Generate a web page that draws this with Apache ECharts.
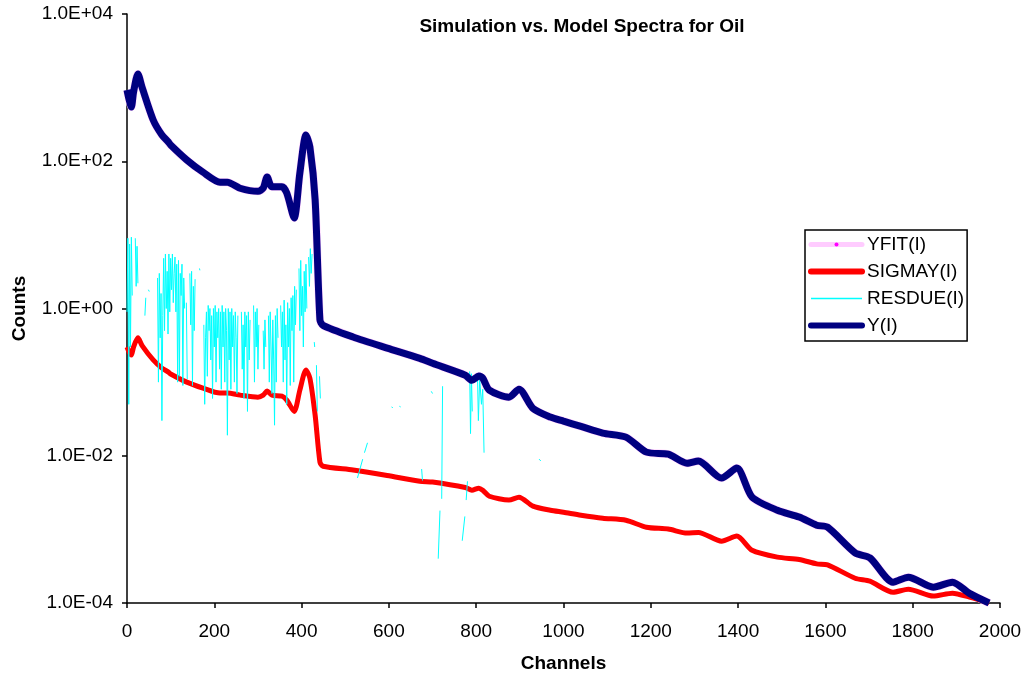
<!DOCTYPE html>
<html>
<head>
<meta charset="utf-8">
<title>Simulation vs. Model Spectra for Oil</title>
<script src="https://cdn.jsdelivr.net/npm/echarts@6/dist/echarts.min.js"></script>
<style>
  html, body { margin: 0; padding: 0; background: #fff; }
  #chart { width: 1028px; height: 679px; }
</style>
</head>
<body>
<div id="chart"></div>
<script>
// channels shared by Y, YFIT and SIGMAY
const channels = [0, 5, 10, 15, 25, 35, 60, 80, 95, 100, 137, 174, 213, 230, 259, 300, 312, 321, 332, 355,
  366, 383, 396, 410, 419, 431, 442, 449, 518, 596, 671, 700, 775, 790, 806, 815, 830, 875, 898, 930,
  970, 1000, 1040, 1090, 1143, 1190, 1240, 1283, 1309, 1362, 1397, 1432, 1490, 1540, 1580, 1605, 1668, 1702, 1755, 1790,
  1847, 1891, 1930, 1975];

const yVals = [930, 680, 545, 870, 1530, 990, 363, 227, 182, 166, 104, 71, 52, 52, 43, 39, 43, 61, 45, 45,
  37, 17, 69, 227, 156, 30, 0.70, 0.59, 0.41, 0.29, 0.21, 0.18, 0.124, 0.106, 0.121, 0.113, 0.078, 0.0625, 0.080, 0.044,
  0.0335, 0.0295, 0.025, 0.0203, 0.0179, 0.0112, 0.0105, 0.0079, 0.0085, 0.00497, 0.0068, 0.00274, 0.00182, 0.00147, 0.00114, 0.00107, 0.00048, 0.00041, 0.000192, 0.000224,
  0.000164, 0.000192, 0.000135, 0.0001];

// the fit sits right under Y(I)
const yfitVals = yVals.slice();

const sigmaVals = [0.30, 0.256, 0.233, 0.30, 0.40, 0.31, 0.20, 0.155, 0.137, 0.129, 0.100, 0.083, 0.071, 0.071, 0.0666, 0.0625, 0.0666, 0.0755, 0.0666, 0.0645,
  0.057, 0.040, 0.078, 0.146, 0.113, 0.0356, 0.0082, 0.0072, 0.0064, 0.0054, 0.0045, 0.0044, 0.0037, 0.0034, 0.00363, 0.0034, 0.00282, 0.0025, 0.00274, 0.00207,
  0.00182, 0.00171, 0.00156, 0.00142, 0.00133, 0.00107, 0.00101, 0.00089, 0.00091, 0.00069, 0.00081, 0.00052, 0.00042, 0.00039, 0.00034, 0.00033, 0.000217, 0.000198, 0.00014, 0.000154,
  0.000124, 0.000136, 0.00012, 0.0001];

// residuals, null where the residual is negative (not drawn on a log axis)
const resCh = [0, 2, 4, 6, 8, 10, 12, 14, 19, 21, 23, 25, 27, 41, 43, 44, 49, 51, 52,
  70, 72, 74, 76, 78, 80, 82, 84, 86, 88, 90, 92, 94, 96, 98, 100, 102, 104, 106, 108, 110, 112, 114, 116, 118, 120,
  122, 124, 126, 128, 130, 132, 134, 136, 138, 140, 144, 146, 148, 150, 152, 154, 156, 158, 166, 167, 168,
  176, 178, 180, 182, 184, 186, 188, 190, 192, 194, 196, 198, 200, 202, 204, 206, 208, 210, 212, 214, 216, 218, 220,
  222, 224, 226, 228, 230, 232, 234, 236, 238, 240, 242, 244, 246, 248, 250, 252, 254, 256,
  262, 264, 266, 268, 270, 272, 274, 276, 278, 280, 282, 284, 290, 292, 294, 296, 298, 300, 302, 304,
  312, 314, 316, 318, 320, 324, 326, 328, 330, 332, 334, 336, 338, 340, 342, 344, 346, 348,
  352, 354, 356, 358, 360, 362, 364, 366, 368, 370, 372, 374, 376, 378, 380, 382, 384, 386, 388, 390,
  394, 396, 398, 400, 402, 404, 406, 408, 410, 412, 414, 416, 418, 420, 422, 424, 426, 429, 430, 431,
  434, 436, 437, 441, 443, 444,
  528, 540, 541, 544, 551, 552, 606, 609, 610, 624, 627, 628, 675, 677, 678, 697, 700, 701,
  713, 717, 718, 721, 723, 724, 768, 774, 775, 777, 780, 781, 785, 787, 789, 791, 792,
  803, 805, 808, 812, 815, 818, 819, 944, 948];

const resVals = [0.9, 9.0, 0.05, 7.5, 0.3, 9.3, 1.5, null, 9.0, 2.0, 7.0, 2.2, null, 0.8, 1.4, null, 1.8, 1.7, null,
  2.6, 0.1, 3.0, 0.4, 1.6, 0.03, 0.8, 4.8, 0.5, 5.5, 1.0, 3.2, 0.45, 5.5, 0.9, 4.8, 1.8, 5.5, 1.2, 3.0, 5.0, 0.9, 4.0, 0.1, 4.5, 0.12,
  3.0, 1.5, 4.0, 0.09, 2.6, 1.0, null, 1.2, 0.11, null, 3.0, 0.6, 3.2, 0.09, 2.0, 0.5, 2.5, null, 3.5, 3.3, null,
  0.6, 0.05, 0.4, 0.9, 0.12, 1.1, 0.5, 1.0, 0.2, 0.8, 0.06, 1.0, 0.3, 1.1, 0.1, 0.9, 0.4, 1.0, 0.15, 0.9, 0.08, 1.1, 0.3,
  0.9, 0.1, 1.0, 0.5, 0.019, 1.0, 0.2, 0.9, 0.08, 1.0, 0.3, 0.8, 0.1, 0.9, 0.4, 0.07, 0.8, null,
  0.9, 0.15, 0.6, 0.06, 0.9, 0.3, 0.8, 0.04, 0.9, 0.2, 0.7, null, 1.1, 0.1, 0.9, 0.3, 1.0, 0.15, 0.6, null,
  0.5, 0.15, 0.7, 0.3, null, 0.8, 0.1, 0.9, 0.3, 0.07, 0.7, 0.2, 0.026, 0.8, 0.1, 1.0, 0.4, null,
  1.1, 0.3, 0.9, 0.1, 1.3, 0.2, 0.6, 0.05, 1.2, 0.3, 1.0, 0.09, 1.4, 0.5, 1.5, 0.1, 2.0, 0.6, 1.8, null,
  3.5, 0.5, 4.5, 0.8, 2.0, 0.3, 3.2, 0.9, 4.0, 1.0, null, 5.0, 2.0, 6.5, 3.0, 5.5, null, 0.35, 0.3, null,
  0.17, 0.04, null, 0.12, 0.06, null,
  0.005, 0.009, null, 0.011, 0.015, null, 0.046, 0.045, null, 0.047, 0.046, null, 0.0066, 0.0046, null, 0.075, 0.07, null,
  0.0004, 0.0018, null, 0.0026, 0.088, null, 0.0007, 0.0015, null, 0.0025, 0.0045, null, 0.14, 0.02, 0.13, 0.04, null,
  0.12, 0.03, 0.11, 0.05, 0.08, 0.011, null, 0.009, 0.0085];

function pairs(xs, ys) {
  return xs.map((x, i) => [x, ys[i] == null ? '-' : ys[i]]);
}

// 1e-4 -> "1.0E-04"
function sciLabel(v) {
  const e = Math.round(Math.log10(v));
  const a = Math.abs(e);
  return '1.0E' + (e < 0 ? '-' : '+') + (a < 10 ? '0' + a : a);
}

const FONT = '"Liberation Sans", Arial, sans-serif';

const myChart = echarts.init(document.getElementById('chart'));

const option = {
  animation: false,
  backgroundColor: '#fff',
  title: {
    text: 'Simulation vs. Model Spectra for Oil',
    left: 577,
    top: 12,
    textAlign: 'center',
    textStyle: { fontFamily: FONT, fontSize: 19, fontWeight: 'bold', color: '#000' }
  },
  legend: {
    orient: 'vertical',
    left: 805,
    top: 230,
    padding: [5, 3, 6, 3],
    itemWidth: 51,
    itemHeight: 5,
    itemGap: 8,
    borderColor: '#000',
    borderWidth: 1.5,
    textStyle: { fontFamily: FONT, fontSize: 19, color: '#000', lineHeight: 19 },
    data: [
      { name: 'YFIT(I)', itemStyle: { color: '#ff00ff' }, lineStyle: { color: '#ffccff', width: 5, cap: 'round' } },
      { name: 'SIGMAY(I)', itemStyle: { opacity: 0 }, lineStyle: { color: '#ff0000', width: 6, cap: 'round' } },
      { name: 'RESDUE(I)', itemStyle: { opacity: 0 }, lineStyle: { color: '#00ffff', width: 1.5 } },
      { name: 'Y(I)', itemStyle: { opacity: 0 }, lineStyle: { color: '#000080', width: 6, cap: 'round' } }
    ]
  },
  grid: {
    left: 127,
    right: 28,
    top: 14,
    bottom: 76
  },
  xAxis: {
    type: 'value',
    min: 0,
    max: 2000,
    interval: 200,
    name: 'Channels',
    nameLocation: 'middle',
    nameGap: 51,
    nameTextStyle: { fontFamily: FONT, fontSize: 19, fontWeight: 'bold', color: '#000' },
    axisLine: { onZero: false, lineStyle: { color: '#000', width: 1.5 } },
    axisTick: { length: 5, lineStyle: { color: '#000', width: 1.5 } },
    axisLabel: { margin: 19, fontFamily: FONT, fontSize: 19, color: '#000', formatter: v => String(v) },
    splitLine: { show: false }
  },
  yAxis: {
    type: 'log',
    logBase: 100,
    min: 1e-4,
    max: 1e4,
    splitNumber: 4,
    name: 'Counts',
    nameLocation: 'middle',
    nameGap: 98,
    nameTextStyle: { fontFamily: FONT, fontSize: 19, fontWeight: 'bold', color: '#000' },
    axisLine: { show: true, lineStyle: { color: '#000', width: 1.5 } },
    axisTick: { show: true, length: 5, lineStyle: { color: '#000', width: 1.5 } },
    axisLabel: { margin: 14, fontFamily: FONT, fontSize: 19, color: '#000', formatter: sciLabel },
    splitLine: { show: false }
  },
  series: [
    {
      name: 'YFIT(I)',
      type: 'line',
      data: pairs(channels, yfitVals),
      smooth: 0.25,
      symbol: 'circle',
      symbolSize: 4,
      showSymbol: false,
      itemStyle: { color: '#ff00ff' },
      lineStyle: { color: '#ffccff', width: 8 }
    },
    {
      name: 'SIGMAY(I)',
      type: 'line',
      data: pairs(channels, sigmaVals),
      smooth: 0.25,
      symbol: 'none',
      itemStyle: { color: '#ff0000' },
      lineStyle: { color: '#ff0000', width: 5 }
    },
    {
      name: 'RESDUE(I)',
      type: 'line',
      data: pairs(resCh, resVals),
      symbol: 'none',
      connectNulls: false,
      itemStyle: { color: '#00ffff' },
      lineStyle: { color: '#00ffff', width: 1 }
    },
    {
      name: 'Y(I)',
      type: 'line',
      data: pairs(channels, yVals),
      smooth: 0.25,
      symbol: 'none',
      itemStyle: { color: '#000080' },
      lineStyle: { color: '#000080', width: 7 }
    }
  ]
};

myChart.setOption(option);
</script>
</body>
</html>
